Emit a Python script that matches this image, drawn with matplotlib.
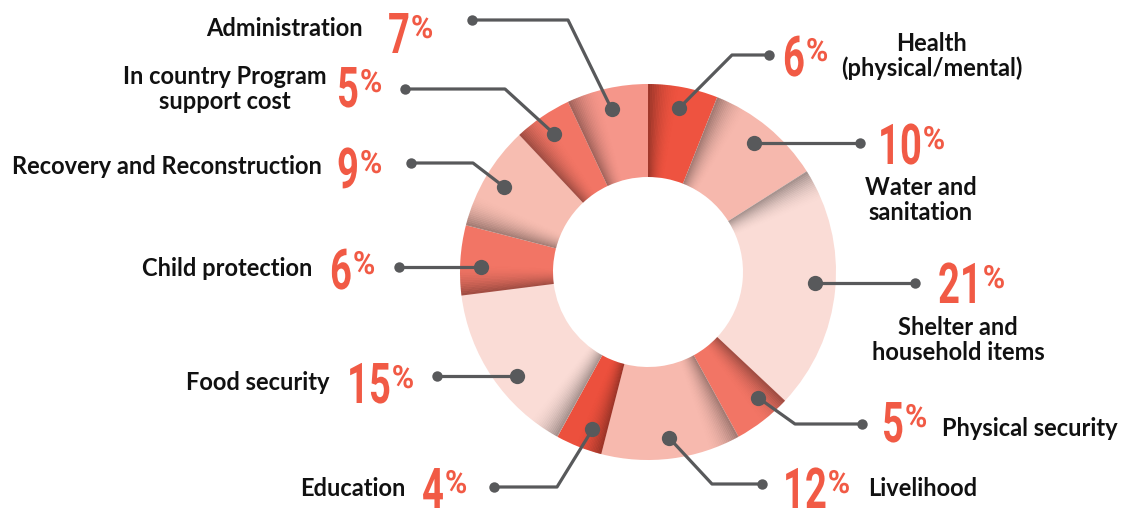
import numpy as np
import matplotlib
matplotlib.use("Agg")
import matplotlib.pyplot as plt
from matplotlib.patches import Wedge
from matplotlib.patheffects import AbstractPathEffect
from matplotlib.transforms import Affine2D

# data, clockwise from the top
categories = ["Health\n(physical/mental)", "Water and\nsanitation", "Shelter and\nhousehold items",
              "Physical security", "Livelihood", "Education", "Food security", "Child protection",
              "Recovery and Reconstruction", "In country Program\nsupport cost", "Administration"]
shares = [6, 10, 21, 5, 12, 4, 15, 6, 9, 5, 7]
colors = ["#EE5340", "#F6B8AD", "#FADCD6", "#F27565", "#F7B9AE", "#EC503D",
          "#FADCD6", "#F27565", "#F7BDB1", "#F27565", "#F5968A"]

# layout (pixel coords, y downwards)
dot_frac = [0.5, 0.5, 0.48, 0.31, 0.5, 0.35, 0.42, 0.41, 0.5, 0.5, 0.5]
# leader waypoints after the dot; None in y = same y as the dot
leaders = [[(732, 55), (769, 55)],
           [(860, None)],
           [(915, None)],
           [(795, 424), (862, 424)],
           [(712, 484), (762, 484)],
           [(557, 487), (494, 487)],
           [(437, None)],
           [(399, None)],
           [(473, 163), (411, 163)],
           [(505, 89), (405, 89)],
           [(568, 20), (472, 20)]]
num_pos = [(783, 76), (878, 164), (938, 303), (882, 442), (783, 508), (422, 508),
           (347, 403), (330, 289), (337, 188), (337, 107), (388, 53)]
# label x, y (center), ha
lab_pos = [(932, 56, "center"), (921, 200, "center"), (958, 340, "center"),
           (942, 428, "left"), (868, 489, "left"), (405, 489, "right"),
           (330, 382, "right"), (312, 268, "right"), (322, 167, "right"),
           (225, 89, "center"), (363, 29, "right")]

W, H = 1128, 511
cx, cy, R, RW = 648, 272, 188, 93
red = "#F15A45"
gray = "#58595B"
SX = 0.68  # horizontal squeeze for the condensed numbers


class Squeeze(AbstractPathEffect):
    """draw text narrower, anchored at its left edge"""
    def __init__(self, sx):
        super().__init__()
        self.sx = sx

    def draw_path(self, renderer, gc, tpath, affine, rgbFace=None):
        renderer.draw_path(gc, tpath, Affine2D().scale(self.sx, 1) + affine, rgbFace)


fig = plt.figure(figsize=(W / 100, H / 100), dpi=100)
ax = fig.add_axes([0, 0, 1, 1])

wedges, _ = ax.pie(shares, colors=colors, startangle=-90, counterclock=True,
                   radius=R, center=(cx, cy),
                   wedgeprops=dict(width=RW, linewidth=0))
ax.set_xlim(0, W)
ax.set_ylim(H, 0)
ax.set_aspect("equal")
ax.axis("off")

# soft shadow on the leading edge of each slice
for w in wedges:
    t1, t2 = w.theta1, w.theta2
    fade = min(10.0, 0.6 * (t2 - t1))
    n = 18
    step = fade / n
    for k in range(n):
        a = 0.32 * (1 - k / n) ** 2
        ax.add_patch(Wedge((cx, cy), R, t1 + k * step, t1 + (k + 1) * step + 0.05,
                           width=RW, facecolor="black", alpha=a, lw=0))

fig.canvas.draw()
renderer = fig.canvas.get_renderer()

for i, w in enumerate(wedges):
    ang = np.deg2rad(w.theta1 + dot_frac[i] * (w.theta2 - w.theta1))
    dx = cx + 167 * np.cos(ang)
    dy = cy + 167 * np.sin(ang)
    xs, ys = [dx], [dy]
    for px, py in leaders[i]:
        xs.append(px)
        ys.append(dy if py is None else py)
    ax.plot(xs, ys, color=gray, lw=2.3, solid_capstyle="round", zorder=5)
    ax.plot(dx, dy, "o", color=gray, ms=11, mec="none", zorder=6)
    ax.plot(xs[-1], ys[-1], "o", color=gray, ms=7.5, mec="none", zorder=6)

    # percentage
    nx, ny = num_pos[i]
    t = ax.text(nx, ny, str(shares[i]), color=red, fontsize=40.5, fontweight="bold",
                family=["Roboto", "DejaVu Sans"], ha="left", va="baseline",
                path_effects=[Squeeze(SX)])
    bb = t.get_window_extent(renderer)
    x_end = nx + SX * bb.width
    ax.text(x_end + 1, ny - 15, "%", color=red, fontsize=23, fontweight="bold",
            family=["Roboto", "DejaVu Sans"], ha="left", va="baseline",
            path_effects=[Squeeze(0.95)])

    # category label
    lx, ly, ha = lab_pos[i]
    ax.text(lx, ly, categories[i], fontsize=17, fontweight="bold", family=["Lato", "DejaVu Sans"],
            color="#111111", ha=ha, va="center", multialignment="center", linespacing=1.1)

fig.savefig("out.png", dpi=100, facecolor="white")
